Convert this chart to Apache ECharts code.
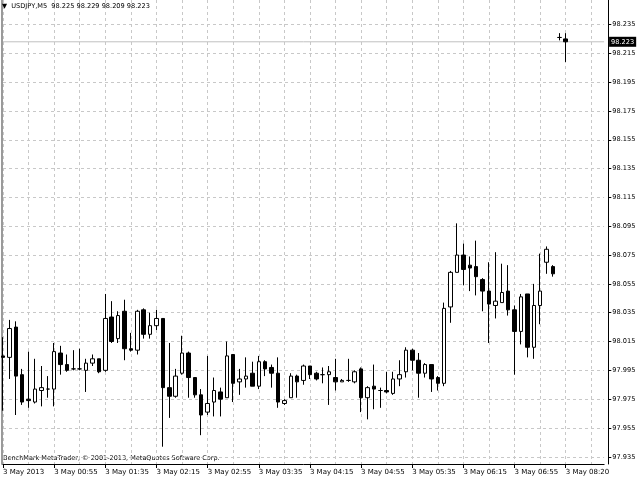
<!DOCTYPE html>
<html><head><meta charset="utf-8">
<script src="https://cdn.jsdelivr.net/npm/echarts@6/dist/echarts.min.js"></script>
<style>html,body{margin:0;padding:0;background:#fff}#c{width:640px;height:480px}</style>
</head><body><div id="c"></div>
<script>
const symbolName = 'USDJPY,M5';
const dayLabel = '3 May';
const firstLabel = '3 May 2013';
const footerText = 'BenchMark MetaTrader, \u00A9 2001-2013, MetaQuotes Software Corp.';

const times = [
"00:00","00:05","00:10","00:15","00:20","00:30","00:40","00:50",
"00:55","01:00","01:05","01:10","01:15","01:20","01:25","01:30",
"01:35","01:40","01:45","01:50","01:55","02:00","02:05","02:10",
"02:15","02:20","02:25","02:30","02:35","02:40","02:45","02:50",
"02:55","03:00","03:05","03:10","03:15","03:20","03:25","03:30",
"03:35","03:40","03:45","03:50","03:55","04:00","04:05","04:10",
"04:15","04:20","04:25","04:30","04:35","04:40","04:45","04:50",
"04:55","05:00","05:05","05:10","05:15","05:20","05:25","05:30",
"05:35","05:40","05:45","05:50","05:55","06:00","06:05","06:10",
"06:15","06:20","06:25","06:30","06:35","06:40","06:45","06:50",
"06:55","07:00","07:05","07:10","07:15","07:20","07:25","08:15",
"08:20"];

const opens = [
98.005,98.004,98.025,97.992,97.975,97.973,97.981,97.982,
97.982,98.007,97.999,97.996,97.996,97.995,98.000,98.003,
97.995,98.032,98.017,98.036,98.010,98.009,98.037,98.020,
98.026,98.031,97.983,97.977,97.993,98.007,97.990,97.978,
97.966,97.973,97.980,97.976,98.006,97.987,97.989,97.993,
97.984,98.001,97.997,97.993,97.972,97.976,97.991,97.988,
97.998,97.993,97.992,97.992,97.990,97.987,97.988,97.987,
97.996,97.976,97.984,97.981,97.981,97.979,97.989,97.994,
98.009,98.002,97.993,97.999,97.990,97.986,98.039,98.063,
98.075,98.068,98.067,98.058,98.050,98.040,98.042,98.050,
98.037,98.022,98.048,98.011,98.040,98.070,98.067,98.226,
98.225];

const closes = [
98.004,98.024,97.991,97.973,97.974,97.982,97.983,97.982,
98.008,97.999,97.995,97.996,97.996,98.000,98.003,97.994,
98.031,98.015,98.033,98.010,98.009,98.036,98.020,98.026,
98.031,97.983,97.977,97.991,98.007,97.990,97.978,97.964,
97.972,97.981,97.975,98.005,97.986,97.989,97.991,97.984,
98.001,97.996,97.993,97.973,97.974,97.991,97.987,97.998,
97.992,97.989,97.992,97.994,97.987,97.988,97.988,97.994,
97.976,97.983,97.982,97.981,97.980,97.989,97.992,98.009,
98.002,97.993,97.999,97.989,97.986,98.038,98.063,98.075,
98.065,98.066,98.060,98.050,98.041,98.043,98.049,98.037,
98.022,98.046,98.011,98.040,98.050,98.079,98.062,98.226,
98.223];

const lows = [
97.967,97.989,97.964,97.971,97.969,97.972,97.970,97.976,
97.970,97.992,97.994,97.995,97.995,97.980,97.998,97.993,
97.994,98.014,98.014,98.002,98.008,98.006,98.017,98.017,
98.023,97.942,97.962,97.976,97.992,97.976,97.976,97.950,
97.964,97.963,97.963,97.976,97.973,97.978,97.983,97.984,
97.982,97.991,97.983,97.969,97.971,97.976,97.976,97.985,
97.989,97.988,97.986,97.971,97.981,97.987,97.987,97.986,
97.966,97.961,97.968,97.969,97.979,97.978,97.984,97.990,
97.995,97.976,97.990,97.980,97.981,97.984,98.028,98.063,
98.054,98.050,98.047,98.036,98.014,98.031,98.042,98.033,
97.992,98.013,98.004,98.003,98.027,98.062,98.060,98.224,
98.209];

const highs = [
98.018,98.030,98.029,97.996,98.008,98.003,97.998,97.991,
98.014,98.012,98.006,98.009,98.010,98.003,98.006,98.003,
98.048,98.043,98.036,98.044,98.021,98.037,98.038,98.035,
98.037,98.031,98.014,97.996,98.019,98.008,97.990,97.982,
98.005,97.990,97.983,98.015,98.006,97.996,98.004,98.001,
98.005,98.002,97.999,98.004,97.975,97.993,97.992,97.999,
97.998,97.994,97.997,97.998,98.003,97.989,98.003,97.995,
97.997,97.984,97.999,97.983,97.994,97.994,98.002,98.011,
98.010,98.007,98.000,97.999,97.991,98.042,98.064,98.097,
98.083,98.074,98.085,98.059,98.070,98.077,98.069,98.068,
98.040,98.048,98.048,98.055,98.076,98.081,98.068,98.229,
98.229];

const yTicks = [97.935,97.955,97.975,97.995,98.015,98.035,98.055,98.075,
98.095,98.115,98.135,98.155,98.175,98.195,98.215,98.235];

const emptySlots = ['', '', '', '', '', ''];

const cats = times.concat(emptySlots);
const candles = opens.map((o, i) => [o, closes[i], lows[i], highs[i]]);
const last = opens.length - 1;
const lastPrice = closes[last];
const priceLine = [[0, lastPrice], [cats.length - 1, lastPrice]];
const fmt = v => Number(v).toFixed(3);
const FONT = 'DejaVu Sans';

const chart = echarts.init(document.getElementById('c'), null, {renderer: 'canvas'});
chart.setOption({
  animation: false,
  backgroundColor: '#ffffff',
  title: {
    text: '\u25BC  ' + symbolName + '  ' + [opens[last], highs[last], lows[last], closes[last]].map(fmt).join(' '),
    left: 2, top: 3, padding: 0,
    textStyle: {fontSize: 6.6, fontWeight: 'normal', color: '#000', fontFamily: FONT}
  },
  graphic: [{
    type: 'text', left: 3, top: 455, silent: true,
    style: {text: footerText, fontSize: 6.5, fill: '#000', fontFamily: FONT}
  }],
  grid: {left: 2.5, right: 35.9, top: 0, bottom: 16, containLabel: false},
  xAxis: {
    type: 'category', data: cats, boundaryGap: false,
    axisLine: {show: true, lineStyle: {color: '#000', width: 1}},
    axisTick: {show: true, interval: 7, length: 4, lineStyle: {color: '#000'}},
    axisLabel: {
      interval: 7, align: 'left', margin: 5, fontSize: 7, color: '#000', fontFamily: FONT,
      formatter: (v, i) => i === 0 ? firstLabel : dayLabel + ' ' + v
    },
    splitLine: {show: true, interval: 3, lineStyle: {color: '#c8c8c8', type: [3, 3], width: 1}}
  },
  yAxis: [{
    type: 'value', position: 'right', min: 97.93, max: 98.252, offset: 4.2, scale: true,
    axisLine: {show: true, lineStyle: {color: '#000', width: 1}},
    axisTick: {show: true, length: 3, customValues: yTicks, lineStyle: {color: '#000'}},
    axisLabel: {customValues: yTicks, margin: 4, fontSize: 6.6, color: '#000', fontFamily: FONT, formatter: v => fmt(v)},
    splitLine: {show: true, lineStyle: {color: '#c8c8c8', type: [3, 3], width: 1}}
  }, {
    type: 'value', position: 'left', min: 97.93, max: 98.252, offset: 1.5,
    axisLine: {show: true, lineStyle: {color: '#9a9a9a', width: 2}},
    axisTick: {show: false}, axisLabel: {show: false}, splitLine: {show: false}
  }],
  series: [{
    type: 'line', data: priceLine, yAxisIndex: 0, z: 1, silent: true,
    symbol: 'none', showSymbol: false, clip: false,
    lineStyle: {color: '#c0c0c0', width: 1, type: 'solid'},
    emphasis: {disabled: true},
    endLabel: {
      show: true, distance: 5, formatter: () => fmt(lastPrice),
      color: '#fff', backgroundColor: '#000', padding: [2, 2, 1, 2],
      fontSize: 6.6, fontFamily: FONT
    }
  }, {
    type: 'candlestick', data: candles, barWidth: 4, clip: false, yAxisIndex: 0, z: 3,
    itemStyle: {color: '#ffffff', color0: '#000000', borderColor: '#000000', borderColor0: '#000000', borderWidth: 1},
    emphasis: {disabled: true}
  }]
});
</script>
</body></html>
